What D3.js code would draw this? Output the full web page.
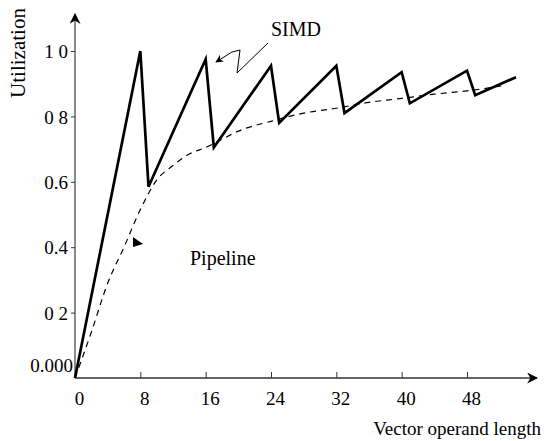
<!DOCTYPE html>
<html><head><meta charset="utf-8">
<script src="https://cdn.jsdelivr.net/npm/d3@7"></script>
<style>body{margin:0;background:#fff}svg{display:block}text{font-family:"Liberation Serif","Times New Roman",serif;fill:#000}</style>
</head><body><svg id="c" width="550" height="441"></svg>
<script>
// SIMD utilization (sawtooth)
const simdN = [0, 8, 9, 16, 17, 24, 25, 32, 33, 40, 41, 48, 49, 54];
const simdU = [0, 1.0, 0.585, 0.975, 0.705, 0.955, 0.78, 0.955, 0.81, 0.935, 0.84, 0.94, 0.865, 0.92];
// Pipeline utilization (dashed curve)
const pipeN = [0, 2, 4, 6, 8, 10, 12, 14, 16, 18, 20, 24, 28, 32, 36, 40, 44, 48, 52.7];
const pipeU = [0, 0.14, 0.29, 0.40, 0.515, 0.605, 0.65, 0.685, 0.705, 0.73, 0.755, 0.785, 0.81, 0.825, 0.843, 0.855, 0.868, 0.878, 0.895];
const xTicks = [0, 8, 16, 24, 32, 40, 48];
const yTicks = [0.2, 0.4, 0.6, 0.8, 1.0];
const yTickLabels = ["0 2", "0.4", "0.6", "0 8", "1 0"];
const zeroLabel = "0.000";

const svg = d3.select("#c");
const x = d3.scaleLinear().domain([0, 48]).range([75, 467]);
const y = d3.scaleLinear().domain([0, 1]).range([378, 51]);

const defs = svg.append("defs");
defs.append("marker").attr("id","ah").attr("viewBox","0 0 10 10")
  .attr("refX",9).attr("refY",5).attr("markerWidth",11).attr("markerHeight",11)
  .attr("markerUnits","userSpaceOnUse").attr("orient","auto")
  .append("path").attr("d","M0,0 L10,5 L0,10 L3,5 Z").attr("fill","#000");
defs.append("marker").attr("id","ah2").attr("viewBox","0 0 10 10")
  .attr("refX",9).attr("refY",5).attr("markerWidth",8).attr("markerHeight",8)
  .attr("markerUnits","userSpaceOnUse").attr("orient","auto")
  .append("path").attr("d","M0,0 L10,5 L0,10 L3,5 Z").attr("fill","#000");

svg.append("line").attr("x1",x(0)).attr("y1",y(0)).attr("x2",x(0)).attr("y2",14)
  .attr("stroke","#666").attr("stroke-width",1.5).attr("marker-end","url(#ah)");
svg.append("line").attr("x1",x(0)).attr("y1",y(0)).attr("x2",537).attr("y2",y(0))
  .attr("stroke","#333").attr("stroke-width",1.5).attr("marker-end","url(#ah)");

// y ticks
const yAxis = d3.axisLeft(y).tickValues(yTicks).tickSize(4).tickFormat((d,i)=>yTickLabels[i]);
const gy = svg.append("g").attr("transform",`translate(${x(0)},0)`).call(yAxis);
gy.select(".domain").remove();
gy.selectAll("line").attr("stroke","#333");
gy.selectAll("text").attr("font-size",19).attr("x",-7).attr("dy","0.35em")
  .style("font-family",'"Liberation Serif",serif');
svg.append("text").attr("x",x(0)-2).attr("y",y(0)-6).attr("text-anchor","end")
  .attr("font-size",19).text(zeroLabel);

// x ticks
const xAxis = d3.axisBottom(x).tickValues(xTicks).tickSize(0).tickFormat(d3.format("d"));
const gx = svg.append("g").attr("transform",`translate(0,${y(0)})`).call(xAxis);
gx.select(".domain").remove();
gx.selectAll("text").attr("font-size",19).attr("y",14).attr("dx",4)
  .style("font-family",'"Liberation Serif",serif');
gx.selectAll(".tick").filter(d=>d>0).append("line").attr("y1",0).attr("y2",-6).attr("stroke","#333");

// axis titles
svg.append("text").attr("transform","translate(25,53) rotate(-90)").attr("text-anchor","middle")
  .attr("font-size",21).text("Utilization");
svg.append("text").attr("x",541).attr("y",435).attr("text-anchor","end")
  .attr("font-size",19).text("Vector operand length");

// pipeline dashed
const pipe = pipeN.map((n,i)=>[n,pipeU[i]]);
svg.append("path").datum(pipe)
  .attr("d", d3.line().x(d=>x(d[0])).y(d=>y(d[1])).curve(d3.curveMonotoneX))
  .attr("fill","none").attr("stroke","#000").attr("stroke-width",1.2).attr("stroke-dasharray","6,5");

// SIMD solid
const simd = simdN.map((n,i)=>[n,simdU[i]]);
svg.append("path").datum(simd)
  .attr("d", d3.line().x(d=>x(d[0])).y(d=>y(d[1])))
  .attr("fill","none").attr("stroke","#000").attr("stroke-width",2.7).attr("stroke-linejoin","miter");

// labels
svg.append("text").attr("x",271).attr("y",36).attr("font-size",20).text("SIMD");
svg.append("path").attr("d","M268,43 L237,73 L240,50 L232,52 L216,62")
  .attr("fill","none").attr("stroke","#000").attr("stroke-width",1).attr("marker-end","url(#ah2)");
svg.append("text").attr("x",190).attr("y",265).attr("font-size",20).text("Pipeline");
svg.append("path").attr("d","M133,237 L133,247 L143,244 Z").attr("fill","#000");
</script></body></html>
